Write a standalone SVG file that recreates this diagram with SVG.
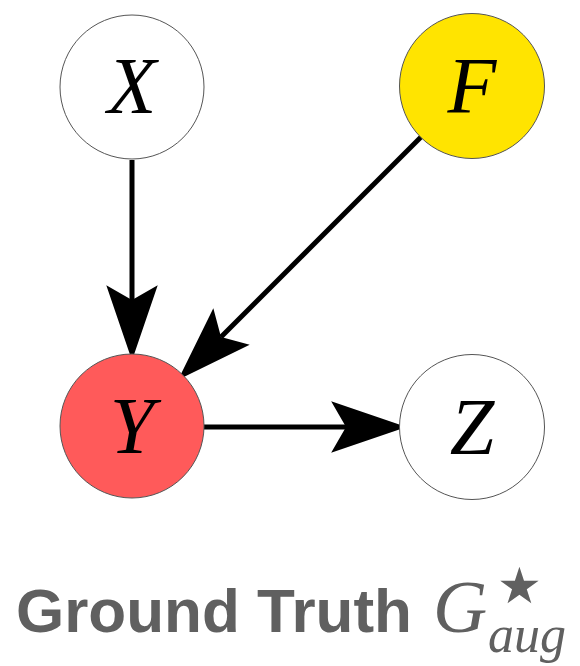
<svg xmlns="http://www.w3.org/2000/svg" width="580" height="666" viewBox="0 0 580 666">
<style>
.node{stroke:#555;stroke-width:1}
.lbl{font-family:"Liberation Serif",serif;font-style:italic;font-size:80px;fill:#000;text-anchor:middle}
.edge{stroke:#000;stroke-width:5;fill:none}
.cap{font-family:"Liberation Sans",sans-serif;font-weight:bold;font-size:62px;fill:#606060}
.math{font-family:"Liberation Serif",serif;font-style:italic;fill:#606060}
</style>
<defs>
<marker id="ah" markerUnits="userSpaceOnUse" markerWidth="80" markerHeight="60" viewBox="-15 -25 70 50" refX="0" refY="0" orient="auto" overflow="visible">
<path d="M-13,-22.5 L53,0 L-13,22.5 L0,0 Z" fill="#000"/>
</marker>
</defs>
<rect width="580" height="666" fill="#fff"/>
<g id="connectors">
<line class="edge" x1="132" y1="160" x2="132" y2="300" marker-end="url(#ah)"/>
<line class="edge" x1="421" y1="137" x2="221" y2="337" marker-end="url(#ah)"/>
<line class="edge" x1="204" y1="427" x2="346" y2="427" marker-end="url(#ah)"/>
</g>
<g id="node-X">
<circle class="node" cx="132" cy="87" r="72" fill="#fff"/>
<text class="lbl" x="132" y="113">X</text>
</g>
<g id="node-F">
<circle class="node" cx="472" cy="86" r="72.5" fill="#ffe400"/>
<text class="lbl" x="472" y="113">F</text>
</g>
<g id="node-Y">
<circle class="node" cx="132" cy="426" r="72" fill="#ff5a5a"/>
<text class="lbl" x="132" y="453">Y</text>
</g>
<g id="node-Z">
<circle class="node" cx="472" cy="427" r="72.5" fill="#fff"/>
<text class="lbl" x="472" y="454">Z</text>
</g>
<g id="caption">
<text class="cap" x="16" y="632" textLength="396" lengthAdjust="spacingAndGlyphs">Ground Truth</text>
<text class="math" x="433" y="632" font-size="75">G</text>
<text x="497" y="603" font-family="DejaVu Sans,sans-serif" font-size="50" fill="#606060">★</text>
<text class="math" x="488" y="652" font-size="52">aug</text>
</g>
</svg>
